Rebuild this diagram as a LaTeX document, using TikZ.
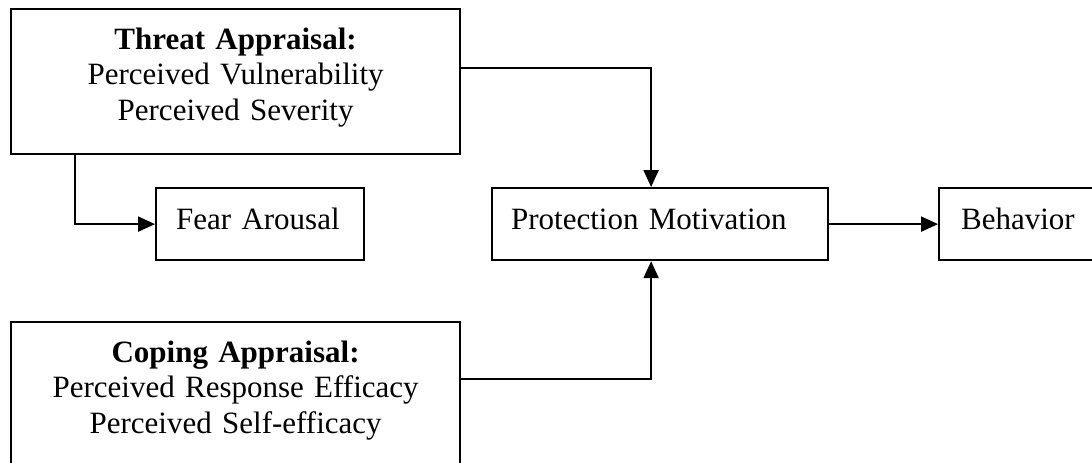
\documentclass[tikz,border=0pt]{standalone}
\usepackage{fontspec}
\setmainfont{Liberation Serif}
\usetikzlibrary{arrows.meta}
\tikzset{>={Triangle[length=8.5pt,width=7.5pt]}}
\tikzset{
  box/.style={draw,line width=1.1pt,anchor=north west,inner ysep=0pt,
    inner xsep=10pt,text height=20.5pt,text depth=15.5pt,align=left},
  appraisal/.style={draw,line width=1.1pt,anchor=north west,inner sep=0pt,
    text width=224.5pt,align=center,text height=20pt}
}

\begin{document}
\begin{tikzpicture}[x=0.5pt,y=-0.5pt,font=\fontsize{15.5}{17.75}\selectfont]
    \useasboundingbox (0,0) rectangle (1092,462);
    \clip (0,0) rectangle (1092,462);
    \node[appraisal,text depth=52.5pt] (threat) at (10,8)
      {\textbf{Threat Appraisal:}\\Perceived Vulnerability\\Perceived Severity};
    \node[appraisal,text depth=80pt] (coping) at (10,321)
      {\textbf{Coping Appraisal:}\\Perceived Response Efficacy\\Perceived Self-efficacy};
    \node[box,text width=84pt] (fear) at (155,187) {Fear Arousal};
    \node[box,inner xsep=9.5pt,text width=149pt] (pm) at (491,187) {Protection Motivation};
    \node[box,inner xsep=11pt,text width=120pt] (behav) at (938,187) {Behavior};
    \draw[->,line width=1.1pt] ([xshift=32.5pt]threat.south west) |- (fear.west);
    \draw[->,line width=1.1pt] ([yshift=6.75pt]threat.east) -| ([xshift=-4.5pt]pm.north);
    \draw[->,line width=1.1pt] ([yshift=-29pt]coping.north east) -| ([xshift=-4.5pt]pm.south);
    \draw[->,line width=1.1pt] (pm) -- (behav);
  \end{tikzpicture}
\end{document}
